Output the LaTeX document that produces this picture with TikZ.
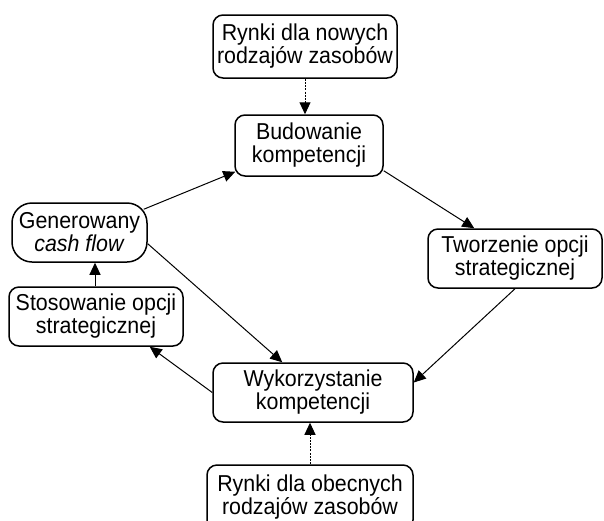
\documentclass[tikz,border=0pt]{standalone}
\usepackage{fontspec}
\setmainfont{Liberation Sans}[FakeStretch=0.93]
\usetikzlibrary{arrows.meta,calc}
\begin{document}
\begin{tikzpicture}[x=1pt,y=-1pt,
  box/.style={draw, line width=1.5pt, rounded corners=10pt, align=center, inner sep=0pt,
    font=\fontsize{23}{23}\selectfont},
  conn/.style={line width=1pt, -{Triangle[length=12pt,width=11pt]}},
  dconn/.style={conn, dash pattern=on 2pt off 1.2pt}]
\useasboundingbox (0,0) rectangle (604,520);
\node[box, minimum width=184pt, minimum height=63pt] (top) at (305,46.5) {Rynki dla nowych\\rodzajów zasobów};
\node[box, minimum width=148pt, minimum height=61pt] (bud) at (309,145.5) {Budowanie\\kompetencji};
\node[box, rounded corners=20pt, minimum width=135pt, minimum height=59pt] (gen) at (79.5,232.5) {Generowany\\\textit{cash flow}};
\node[box, minimum width=174pt, minimum height=59pt] (sto) at (96,316.5) {Stosowanie opcji\\strategicznej};
\node[box, minimum width=174pt, minimum height=59pt] (two) at (515,258.5) {Tworzenie opcji\\strategicznej};
\node[box, minimum width=200pt, minimum height=59pt] (wyk) at (313,392.5) {Wykorzystanie\\kompetencji};
\node[box, minimum width=206pt, minimum height=65pt] (bot) at (310,497.5) {Rynki dla obecnych\\rodzajów zasobów};

\draw[dconn] (top.south) -- (top.south |- bud.north);
\draw[conn] ($(bud.south east)+(0,-6)$) -- ($(two.north west)+(47,0)$);
\draw[conn] (two.south) -- ($(wyk.east)+(0,-10)$);
\draw[conn] ($(gen.north east)+(-4,7)$) -- ($(bud.south west)+(1,-5)$);
\draw[conn] ($(gen.south east)+(0,-19)$) -- ($(wyk.north west)+(70,0)$);
\draw[conn] (wyk.west) -- ($(sto.south east)+(-34,0)$);
\draw[conn] ($(sto.north)+(-1,0)$) -- ($(gen.south)+(15.5,0)$);
\draw[dconn] (bot.north) -- (bot.north |- wyk.south);
\end{tikzpicture}
\end{document}
